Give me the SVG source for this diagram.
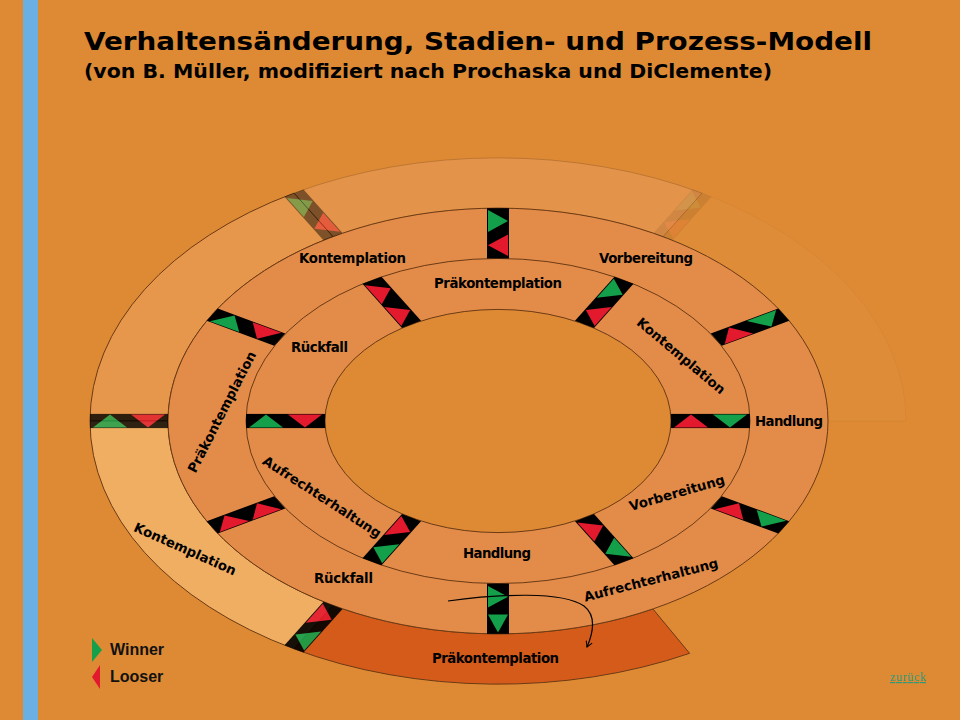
<svg xmlns="http://www.w3.org/2000/svg" width="960" height="720" viewBox="0 0 960 720">
<defs>
<style>
.lbl{font-family:"DejaVu Sans","Liberation Sans",sans-serif;font-weight:bold;font-size:13.3px;fill:#000;text-anchor:middle}
.ttl{font-family:"DejaVu Sans","Liberation Sans",sans-serif;font-weight:bold;fill:#000}
.leg{font-family:"Liberation Sans",Arial,sans-serif;font-weight:bold;font-size:16px;fill:#111}
.edge{stroke:#6b3a14;stroke-width:1;vector-effect:non-scaling-stroke}
.g{fill:#14a04a}
.r{fill:#e3192d}
.gate rect{fill:#000}
</style>
<marker id="ah" viewBox="0 0 10 10" refX="8" refY="5" markerWidth="8" markerHeight="8" orient="auto" markerUnits="userSpaceOnUse">
<path d="M1,1 L8,5 L1,9" fill="none" stroke="#000" stroke-width="1.3"/>
</marker>
</defs>
<rect width="960" height="720" fill="#de8a34"/>
<rect x="23" y="0" width="15" height="720" fill="#6bb0e3"/>

<g id="title">
<text class="ttl" x="84" y="50" font-size="24" textLength="788" lengthAdjust="spacingAndGlyphs">Verhaltensänderung, Stadien- und Prozess-Modell</text>
<text class="ttl" x="84" y="77.5" font-size="19" textLength="688" lengthAdjust="spacingAndGlyphs">(von B. Müller, modifiziert nach Prochaska und DiClemente)</text>
</g>

<g id="ring" transform="translate(498,421) scale(1,0.645)">
<g id="outer-segments">
<path id="seg-a" class="edge" d="M408,0 A408,408 0 0 0 204,-353.3 L165,-285.8 A330,330 0 0 1 330,0 Z" fill="#ffffff" fill-opacity="0.02" stroke-opacity="0.05"/>
<path id="seg-b" class="edge" d="M204,-353.3 A408,408 0 0 0 -204,-353.3 L-165,-285.8 A330,330 0 0 1 165,-285.8 Z" fill="#e4944a" stroke-opacity="0.3"/>
<path id="seg-c" class="edge" d="M-204,-353.3 A408,408 0 0 0 -408,0 L-330,0 A330,330 0 0 1 -165,-285.8 Z" fill="#e6974b"/>
<path id="seg-d" class="edge" d="M-408,0 A408,408 0 0 0 -204,353.3 L-165,285.8 A330,330 0 0 1 -330,0 Z" fill="#efae62"/>
<path id="seg-e" class="edge" d="M-204,353.3 A408,408 0 0 0 191.6,360.2 L154.9,291.4 A330,330 0 0 1 -165,285.8 Z" fill="#d55b1b"/>
</g>
<circle id="middle-ring" class="edge" r="330" fill="#e38c4a"/>
<circle id="inner-ring" class="edge" r="252" fill="none"/>
<circle id="hole" class="edge" r="173" fill="#de8a35"/>

<g id="gates-inner" class="gate">
<g transform="rotate(0)"><rect x="173" y="-11" width="79" height="22"/><polygon class="g" points="215,-10 249,-10 232,10"/><polygon class="r" points="176,10 210,10 193,-10"/></g>
<g transform="rotate(-60)"><rect x="173" y="-11" width="79" height="22"/><polygon class="g" points="215,-10 249,-10 232,10"/><polygon class="r" points="176,10 210,10 193,-10"/></g>
<g transform="rotate(-120)"><rect x="173" y="-11" width="79" height="22"/><polygon class="r" points="215,-10 249,-10 232,10"/><polygon class="r" points="176,-10 210,-10 193,10"/></g>
<g transform="rotate(-180)"><rect x="173" y="-11" width="79" height="22"/><polygon class="g" points="215,-10 249,-10 232,10"/><polygon class="r" points="176,10 210,10 193,-10"/></g>
<g transform="rotate(-240)"><rect x="173" y="-11" width="79" height="22"/><polygon class="g" points="215,-10 249,-10 232,10"/><polygon class="r" points="176,10 210,10 193,-10"/></g>
<g transform="rotate(-300)"><rect x="173" y="-11" width="79" height="22"/><polygon class="g" points="215,-10 249,-10 232,10"/><polygon class="r" points="176,10 210,10 193,-10"/></g>
</g>
<g id="gates-middle" class="gate">
<g transform="rotate(-30)"><rect x="252" y="-11" width="78" height="22"/><polygon class="g" points="293,-10 327,-10 310,10"/><polygon class="r" points="256,10 289,10 272.5,-10"/></g>
<g transform="rotate(-90)"><rect x="252" y="-11" width="78" height="22"/><polygon class="g" points="293,-10 327,-10 310,10"/><polygon class="r" points="256,10 289,10 272.5,-10"/></g>
<g transform="rotate(-150)"><rect x="252" y="-11" width="78" height="22"/><polygon class="g" points="293,-10 327,-10 310,10"/><polygon class="r" points="256,10 289,10 272.5,-10"/></g>
<g transform="rotate(-210)"><rect x="252" y="-11" width="78" height="22"/><polygon class="r" points="293,-10 327,-10 310,10"/><polygon class="r" points="256,-10 289,-10 272.5,10"/></g>
<g transform="rotate(-270)"><rect x="252" y="-11" width="78" height="22"/><polygon class="g" points="300,-10 300,10 328,0"/><polygon class="g" points="256,10 289,10 272.5,-10"/></g>
<g transform="rotate(-330)"><rect x="252" y="-11" width="78" height="22"/><polygon class="g" points="293,-10 327,-10 310,10"/><polygon class="r" points="256,10 289,10 272.5,-10"/></g>
</g>
<g id="gates-outer" class="gate">
<g transform="rotate(-60)" opacity="0.08"><rect x="330" y="-11" width="78" height="22"/><polygon class="g" points="371,-10 405,-10 388,10"/><polygon class="r" points="333,10 367,10 350,-10"/></g>
<g transform="rotate(-120)" opacity="0.45"><rect x="330" y="-11" width="78" height="22"/><polygon class="g" points="371,-10 405,-10 388,10"/><polygon class="r" points="333,10 367,10 350,-10"/></g>
<g transform="rotate(-180)" opacity="0.8"><rect x="330" y="-11" width="78" height="22"/><polygon class="g" points="371,-10 405,-10 388,10"/><polygon class="r" points="333,10 367,10 350,-10"/></g>
<g transform="rotate(-240)" opacity="0.9"><rect x="330" y="-11" width="78" height="22"/><polygon class="g" points="371,-10 405,-10 388,10"/><polygon class="r" points="333,10 367,10 350,-10"/></g>
</g>
</g>

<g id="labels-middle">
<g id="m-kontemplation"><text class="lbl" x="352.5" y="263" textLength="107" lengthAdjust="spacing">Kontemplation</text></g>
<g id="m-vorbereitung"><text class="lbl" x="646" y="263" textLength="94" lengthAdjust="spacing">Vorbereitung</text></g>
<g id="m-handlung"><text class="lbl" x="789" y="426" textLength="68" lengthAdjust="spacing">Handlung</text></g>
<g id="m-aufrechterhaltung"><text class="lbl" transform="translate(651,580) rotate(-14.5)" x="0" y="4.5">Aufrechterhaltung</text></g>
<g id="m-rueckfall"><text class="lbl" x="343.5" y="583" textLength="59" lengthAdjust="spacing">Rückfall</text></g>
<g id="m-praekontemplation"><text class="lbl" transform="translate(222,412) rotate(-63)" x="0" y="4.5">Präkontemplation</text></g>
</g>
<g id="labels-outer">
<g id="o-kontemplation"><text class="lbl" transform="translate(185,549) rotate(24)" x="0" y="4.5">Kontemplation</text></g>
<g id="o-praekontemplation"><text class="lbl" x="495.5" y="663" textLength="127" lengthAdjust="spacing">Präkontemplation</text></g>
</g>
<g id="labels-inner">
<g id="i-praekontemplation"><text class="lbl" x="498" y="288" textLength="128" lengthAdjust="spacing">Präkontemplation</text></g>
<g id="i-rueckfall"><text class="lbl" x="319.5" y="352" textLength="57" lengthAdjust="spacing">Rückfall</text></g>
<g id="i-kontemplation"><text class="lbl" transform="translate(681,356) rotate(40)" x="0" y="4.5">Kontemplation</text></g>
<g id="i-aufrechterhaltung"><text class="lbl" transform="translate(322,497) rotate(33)" x="0" y="4.5">Aufrechterhaltung</text></g>
<g id="i-handlung"><text class="lbl" x="497" y="558" textLength="68" lengthAdjust="spacing">Handlung</text></g>
<g id="i-vorbereitung"><text class="lbl" transform="translate(677,493) rotate(-16)" x="0" y="4.5">Vorbereitung</text></g>
</g>

<g id="connectors">
<path d="M448,601 C500,594 562,591 584,606 C597,616 593,633 587,647" fill="none" stroke="#000" stroke-width="1.2" marker-end="url(#ah)"/>
</g>

<g id="legend">
<polygon class="g" points="92,638 92,662 102,650"/>
<text class="leg" x="110" y="655">Winner</text>
<polygon class="r" points="100,665 100,689 92,677"/>
<text class="leg" x="110" y="682">Looser</text>
</g>
<g id="back-link">
<text x="890" y="681" font-family="'Liberation Serif','Times New Roman',serif" font-size="12" fill="#2f9a78" text-decoration="underline" textLength="36" lengthAdjust="spacing">zurück</text>
</g>
</svg>
